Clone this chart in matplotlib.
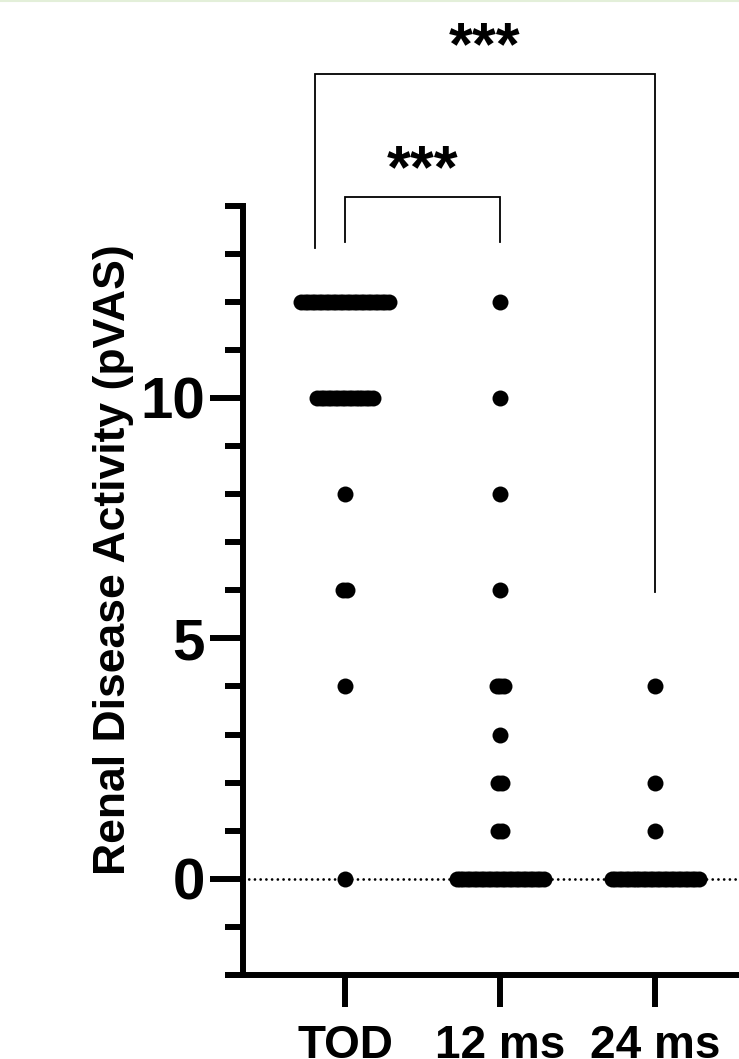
import numpy as np
import matplotlib
matplotlib.use("Agg")
import matplotlib.pyplot as plt
from matplotlib.lines import Line2D

plt.rcParams["font.family"] = ["Liberation Sans", "DejaVu Sans"]
plt.rcParams["font.weight"] = "bold"

# ── data ──────────────────────────────────────────────────────────────────────
groups = ["TOD", "12 ms", "24 ms"]

tod_values = [12, 10, 8, 6, 4, 0]
tod_counts = [26, 17, 1, 2, 1, 1]

ms12_values = [12, 10, 8, 6, 4, 3, 2, 1, 0]
ms12_counts = [1, 1, 1, 1, 3, 1, 2, 2, 26]

ms24_values = [4, 2, 1, 0]
ms24_counts = [1, 1, 1, 26]

y_ticks_major = [0, 5, 10]
y_ticks_minor = list(range(-2, 15))

# significance brackets: (x_left, x_right, y_top, left_leg_bottom, right_leg_bottom, label)
inner_bracket = (0.0, 1.0, 14.18, 13.24, 13.24, "***")
outer_bracket = (-0.194, 2.0, 16.74, 13.12, 5.97, "***")

# ── figure ────────────────────────────────────────────────────────────────────
W, H = 739, 1059
fig = plt.figure(figsize=(W / 100, H / 100), dpi=100)
fig.patch.set_facecolor("white")

ax_l, ax_r, ax_t, ax_b = 243, 756, 205.6, 975
ax = fig.add_axes([ax_l / W, 1 - ax_b / H, (ax_r - ax_l) / W, (ax_b - ax_t) / H])
ax.set_xlim(-0.658, 2.65)
ax.set_ylim(-2, 14)

SPACING = 0.0225   # horizontal offset between stacked points (data units)
for xi, (vals, cnts) in enumerate([(tod_values, tod_counts),
                                  (ms12_values, ms12_counts),
                                  (ms24_values, ms24_counts)]):
    for v, n in zip(vals, cnts):
        offs = (np.arange(n) - (n - 1) / 2) * SPACING
        ax.plot(xi + offs, np.full(n, v), "o", color="black", ms=11.5,
                markeredgewidth=0, zorder=3, clip_on=False)

# dotted zero line
ax.axhline(0, color="black", lw=2.0, linestyle=(0, (0.01, 2.05)),
           dash_capstyle="round", zorder=1)

# spines
SPW = 4.3
for s in ["top", "right"]:
    ax.spines[s].set_visible(False)
ax.spines["left"].set_linewidth(SPW)
ax.spines["bottom"].set_linewidth(SPW)
ax.spines["left"].set_capstyle("projecting")
# x axis line extends a little left of the y spine
ax.add_line(Line2D([-18 / (ax_r - ax_l), 0], [0, 0], transform=ax.transAxes,
                   color="black", lw=SPW, clip_on=False, solid_capstyle="butt"))

ax.set_yticks(y_ticks_major)
ax.set_yticks(y_ticks_minor, minor=True)
ax.set_yticklabels([str(t) for t in y_ticks_major], fontsize=42, fontweight="bold")
ax.tick_params(axis="y", which="major", length=24, width=SPW, pad=3.5)
ax.tick_params(axis="y", which="minor", length=13, width=SPW)

ax.set_xticks(range(len(groups)))
ax.set_xticklabels(groups, fontsize=33, fontweight="bold")
ax.tick_params(axis="x", which="major", length=23, width=SPW, pad=12)

fig.text(114 / W, 1 - 560 / H, "Renal Disease Activity (pVAS)", rotation=90,
         ha="center", va="center", fontsize=32, fontweight="bold")

# brackets
for xl, xr, yt, yl, yr, lab in [inner_bracket, outer_bracket]:
    ax.plot([xl, xl, xr, xr], [yl, yt, yt, yr], color="black", lw=1.3,
            clip_on=False, solid_joinstyle="miter")
    ax.text((xl + xr) / 2, yt + 0.53, lab, ha="center", va="center",
            fontsize=44, fontweight="bold", clip_on=False)

# thin green border at the very top
fig.add_artist(Line2D([0, 1], [1 - 1 / H, 1 - 1 / H], transform=fig.transFigure,
                      color="#e3efd9", lw=1.5))

fig.savefig("out.png", dpi=100, facecolor="white")
